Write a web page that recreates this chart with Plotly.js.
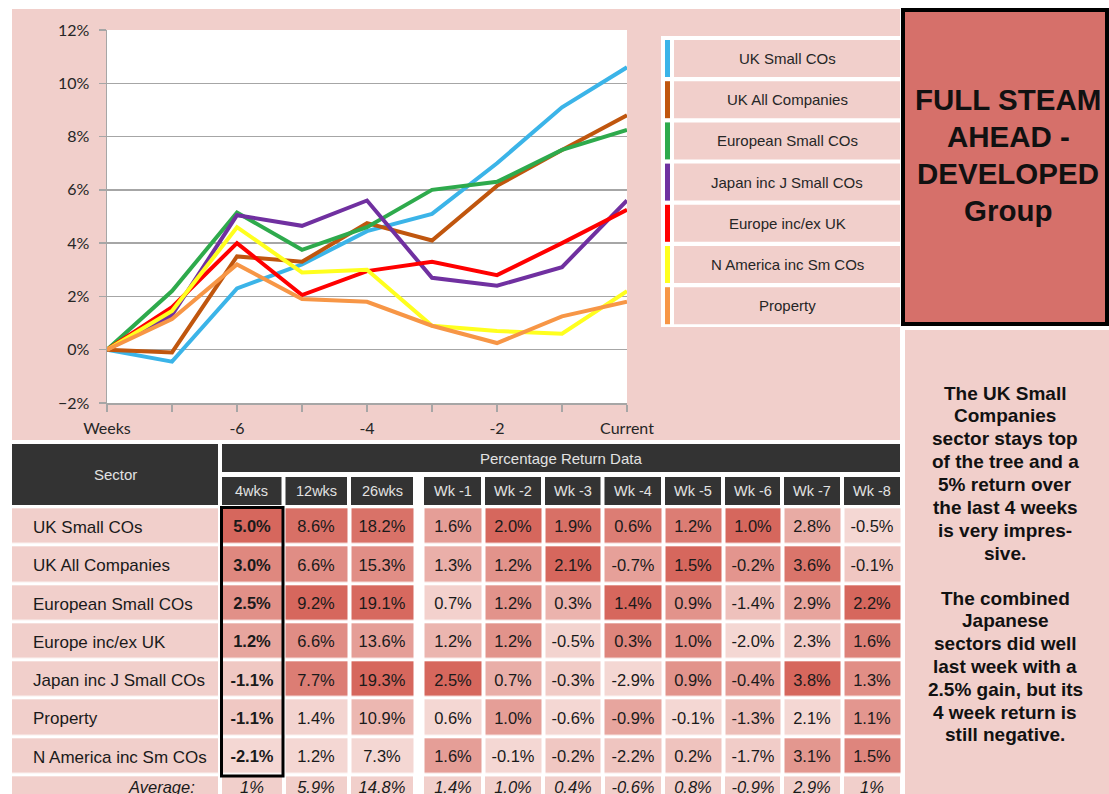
<!DOCTYPE html>
<html>
<head>
<meta charset="utf-8">
<script src="https://cdn.plot.ly/plotly-3.0.1.min.js"></script>
<style>html,body{margin:0;padding:0;background:#fff;}#chart{width:1109px;height:794px;}</style>
</head>
<body>
<div id="chart"></div>
<script>
// ---------------- DATA ----------------
const weeks = [-8, -7, -6, -5, -4, -3, -2, -1, 0];
const weekLabels = ['Weeks', '', '-6', '', '-4', '', '-2', '', 'Current'];

const seriesNames = ['UK Small COs', 'UK All Companies', 'European Small COs', 'Japan inc J Small COs', 'Europe inc/ex UK', 'N America inc Sm COs', 'Property'];
const ukSmallCos   = [0, -0.45, 2.3, 3.2, 4.45, 5.1, 7.0, 9.1, 10.6];
const ukAllCos     = [0, -0.1, 3.5, 3.3, 4.75, 4.1, 6.15, 7.5, 8.8];
const euroSmallCos = [0, 2.2, 5.15, 3.75, 4.6, 6.0, 6.3, 7.5, 8.25];
const japanIncJ    = [0, 1.3, 5.05, 4.65, 5.6, 2.7, 2.4, 3.1, 5.6];
const europeExUK   = [0, 1.6, 4.0, 2.05, 2.95, 3.3, 2.8, 4.0, 5.25];
const nAmerica     = [0, 1.45, 4.6, 2.9, 3.0, 0.9, 0.7, 0.6, 2.2];
const property     = [0, 1.15, 3.2, 1.9, 1.8, 0.9, 0.25, 1.25, 1.8];
const seriesValues = [ukSmallCos, ukAllCos, euroSmallCos, japanIncJ, europeExUK, nAmerica, property];
const seriesColors = ['#3bb4e8', '#c0560e', '#2eaa4c', '#7030a0', '#ff0000', '#ffff1e', '#f79646'];

const tableSectors = ['UK Small COs', 'UK All Companies', 'European Small COs', 'Europe inc/ex UK', 'Japan inc J Small COs', 'Property', 'N America inc Sm COs'];
const periodLabels = ['4wks', '12wks', '26wks', 'Wk -1', 'Wk -2', 'Wk -3', 'Wk -4', 'Wk -5', 'Wk -6', 'Wk -7', 'Wk -8'];
const ret4wks  = [5.0, 3.0, 2.5, 1.2, -1.1, -1.1, -2.1];
const ret12wks = [8.6, 6.6, 9.2, 6.6, 7.7, 1.4, 1.2];
const ret26wks = [18.2, 15.3, 19.1, 13.6, 19.3, 10.9, 7.3];
const retWk1 = [1.6, 1.3, 0.7, 1.2, 2.5, 0.6, 1.6];
const retWk2 = [2.0, 1.2, 1.2, 1.2, 0.7, 1.0, -0.1];
const retWk3 = [1.9, 2.1, 0.3, -0.5, -0.3, -0.6, -0.2];
const retWk4 = [0.6, -0.7, 1.4, 0.3, -2.9, -0.9, -2.2];
const retWk5 = [1.2, 1.5, 0.9, 1.0, 0.9, -0.1, 0.2];
const retWk6 = [1.0, -0.2, -1.4, -2.0, -0.4, -1.3, -1.7];
const retWk7 = [2.8, 3.6, 2.9, 2.3, 3.8, 2.1, 3.1];
const retWk8 = [-0.5, -0.1, 2.2, 1.6, 1.3, 1.1, 1.5];
const averageLabel = 'Average:';
const averageValues = ['1%', '5.9%', '14.8%', '1.4%', '1.0%', '0.4%', '-0.6%', '0.8%', '-0.9%', '2.9%', '1%'];

const titleLines = ['FULL STEAM', 'AHEAD -', 'DEVELOPED', 'Group'];
const commentary1 = ['The UK Small', 'Companies', 'sector stays top', 'of the tree and a', '5% return over', 'the last 4 weeks', 'is very impres-', 'sive.'];
const commentary2 = ['The combined', 'Japanese', 'sectors did well', 'last week with a', '2.5% gain, but its', '4 week return is', 'still negative.'];

// ---------------- LAYOUT CONSTANTS (pixel space) ----------------
const W = 1109, H = 794;
const PLOT = {l: 107, r: 627, t: 30, b: 403};
const PINK = '#f1cfcb';
const DARK = '#333333';
const colEdges = [220, 283.5, 349, 415, 422, 483, 543, 602.5, 663, 723, 782, 842, 902];
const rowTop = 507.3, rowH = 38.3;
const rowEdges = Array.from({length: 8}, (_, i) => rowTop + i * rowH);
const avgEdges = [rowEdges[7], 798];
const ARIAL = 'Liberation Sans, Arial, sans-serif';

// ---------------- HELPERS ----------------
function norm(arr) {
  const mn = Math.min(...arr), mx = Math.max(...arr);
  return arr.map(v => (v - mn) / (mx - mn));
}
const fmt = v => v.toFixed(1) + '%';
const cellScale = [[0, '#f4d7d3'], [0.5, '#e6a19a'], [1, '#d6675d']];

// ---------------- LINE CHART ----------------
const traces = [];
seriesNames.forEach((name, i) => {
  traces.push({
    type: 'scatter', mode: 'lines', name: name,
    x: weeks, y: seriesValues[i],
    line: {color: seriesColors[i], width: 4},
    xaxis: 'x2', yaxis: 'y2', cliponaxis: false, hoverinfo: 'skip', showlegend: false
  });
});

// ---------------- TABLE HEATMAPS ----------------
const restCols = [ret12wks, ret26wks, null, retWk1, retWk2, retWk3, retWk4, retWk5, retWk6, retWk7, retWk8];
const restNorm = restCols.map(c => c ? norm(c) : null);
const zRest = tableSectors.map((_, r) => restCols.map((c, k) => c ? restNorm[k][r] : null));
const tRest = tableSectors.map((_, r) => restCols.map(c => c ? fmt(c[r]) : ''));

const n4 = norm(ret4wks);
traces.push({
  type: 'heatmap', xaxis: 'x', yaxis: 'y',
  x: colEdges.slice(0, 2), y: rowEdges,
  z: ret4wks.map((_, r) => [n4[r]]), text: ret4wks.map(v => [fmt(v)]),
  texttemplate: '%{text}', textfont: {family: ARIAL, size: 16.5, color: '#1a1a1a', weight: 'bold'},
  colorscale: cellScale, zmin: 0, zmax: 1, showscale: false, xgap: 4, ygap: 3.5, hoverinfo: 'skip'
});
traces.push({
  type: 'heatmap', xaxis: 'x', yaxis: 'y',
  x: colEdges.slice(1), y: rowEdges,
  z: zRest, text: tRest,
  texttemplate: '%{text}', textfont: {family: ARIAL, size: 16.5, color: '#1a1a1a'},
  colorscale: cellScale, zmin: 0, zmax: 1, showscale: false, xgap: 4, ygap: 3.5, hoverinfo: 'skip'
});
// sector column + average row backgrounds
traces.push({
  type: 'heatmap', xaxis: 'x', yaxis: 'y',
  x: [10, colEdges[0]], y: rowEdges.concat([avgEdges[1]]),
  z: rowEdges.map(() => [0]),
  colorscale: [[0, PINK], [1, PINK]], zmin: 0, zmax: 1, showscale: false, xgap: 4, ygap: 3.5, hoverinfo: 'skip'
});
const avgZ = [], avgT = [];
let ai = 0;
colEdges.slice(0, -1).forEach((_, k) => {
  if (k === 3) { avgZ.push(null); avgT.push(''); }
  else { avgZ.push(0); avgT.push(averageValues[ai++]); }
});
traces.push({
  type: 'heatmap', xaxis: 'x', yaxis: 'y',
  x: colEdges, y: avgEdges, z: [avgZ], text: [avgT],
  texttemplate: '%{text}', textfont: {family: ARIAL, size: 16.5, color: '#1a1a1a', style: 'italic'},
  colorscale: [[0, PINK], [1, PINK]], zmin: 0, zmax: 1, showscale: false, xgap: 4, ygap: 3.5, hoverinfo: 'skip'
});

// ---------------- SHAPES ----------------
const shapes = [];
function rect(x0, y0, x1, y1, fill, extra) {
  shapes.push(Object.assign({type: 'rect', xref: 'x', yref: 'y', x0, y0, x1, y1, fillcolor: fill, line: {width: 0}, layer: 'below'}, extra || {}));
}
rect(12, 9, 900, 440, PINK);                 // chart panel background
rect(PLOT.l, PLOT.t, PLOT.r, PLOT.b, '#ffffff'); // plot area
rect(661, 36, 900, 327, '#ffffff');           // legend frame
const legTop = 40, legStep = 41.2, legH = 37;
seriesNames.forEach((n, i) => {
  const t = legTop + i * legStep;
  rect(665, t, 670, t + legH, seriesColors[i]);
  rect(674, t, 900, t + legH, PINK);
});
rect(903, 10, 1107, 324, '#d6706a', {line: {color: '#000', width: 4}}); // title box
rect(905, 330, W, H, PINK);                   // commentary panel
// headers
rect(12, 444, 218, 505, DARK);
rect(222, 444, 900, 472, DARK);
periodLabels.forEach((p, k) => {
  const c = k < 3 ? k : k + 1;
  rect(colEdges[c] + 2, 477, colEdges[c + 1] - 2, 505, DARK);
});
// 4wks highlight border
shapes.push({type: 'rect', xref: 'x', yref: 'y', x0: 221.5, y0: 507.5, x1: 283, y1: 776, line: {color: '#000', width: 3}, fillcolor: 'rgba(0,0,0,0)', layer: 'above'});

// ---------------- ANNOTATIONS ----------------
const ann = [];
function txt(x, y, text, font, xanchor) {
  ann.push({xref: 'x', yref: 'y', x, y, text, showarrow: false, xanchor: xanchor || 'center', yanchor: 'middle', font: Object.assign({family: ARIAL}, font)});
}
seriesNames.forEach((n, i) => txt(787, legTop + i * legStep + legH / 2, n, {size: 15, color: '#262626'}));
titleLines.forEach((l, i) => txt(1008, 99 + i * 37, '<b>' + l + '</b>', {size: 29.5, color: '#111'}));
commentary1.forEach((l, i) => txt(1005, 393 + i * 22.9, '<b>' + l + '</b>', {size: 19, color: '#111'}));
commentary2.forEach((l, i) => txt(1005, 598 + i * 22.8, '<b>' + l + '</b>', {size: 19, color: '#111'}));
txt(115, 474, 'Sector', {size: 15, color: '#e2e2e2'});
txt(561, 458, 'Percentage Return Data', {size: 15, color: '#e2e2e2'});
periodLabels.forEach((p, k) => {
  const c = k < 3 ? k : k + 1;
  txt((colEdges[c] + colEdges[c + 1]) / 2, 491, p, {size: 14.5, color: '#e2e2e2'});
});
tableSectors.forEach((s, r) => txt(31, rowEdges[r] + rowH / 2 + 1, s, {size: 17, color: '#1a1a1a'}, 'left'));
txt(197, 787, '<i>' + averageLabel + '</i>', {size: 16.5, color: '#1a1a1a'}, 'right');

// ---------------- LAYOUT ----------------
const layout = {
  width: W, height: H,
  margin: {l: 0, r: 0, t: 0, b: 0, pad: 0},
  paper_bgcolor: '#ffffff', plot_bgcolor: 'rgba(0,0,0,0)',
  showlegend: false,
  xaxis: {domain: [0, 1], range: [0, W], visible: false, fixedrange: true},
  yaxis: {domain: [0, 1], range: [H, 0], visible: false, fixedrange: true},
  xaxis2: {
    domain: [PLOT.l / W, PLOT.r / W], anchor: 'y2', range: [-8, 0],
    tickvals: weeks, ticktext: weekLabels, showgrid: false, zeroline: false,
    showline: true, linecolor: '#a6a6a6', linewidth: 1.5,
    ticks: 'outside', ticklen: 7, tickcolor: '#a6a6a6', tickwidth: 1.5,
    tickfont: {family: 'Lato, Carlito, sans-serif', size: 16, color: '#262626'}, ticklabelstandoff: 3, fixedrange: true
  },
  yaxis2: {
    domain: [1 - PLOT.b / H, 1 - PLOT.t / H], anchor: 'x2', range: [-2, 12], dtick: 2, tick0: 0,
    ticksuffix: '%', showgrid: true, gridcolor: '#a6a6a6', gridwidth: 1.5, zeroline: false,
    showline: true, linecolor: '#a6a6a6', linewidth: 1.5,
    ticks: 'outside', ticklen: 7, tickcolor: '#a6a6a6', tickwidth: 1.5,
    tickfont: {family: 'Lato, Carlito, sans-serif', size: 16, color: '#262626'}, ticklabelstandoff: 6, fixedrange: true
  },
  shapes: shapes,
  annotations: ann
};

Plotly.newPlot('chart', traces, layout, {displayModeBar: false, staticPlot: true});
</script>
</body>
</html>
